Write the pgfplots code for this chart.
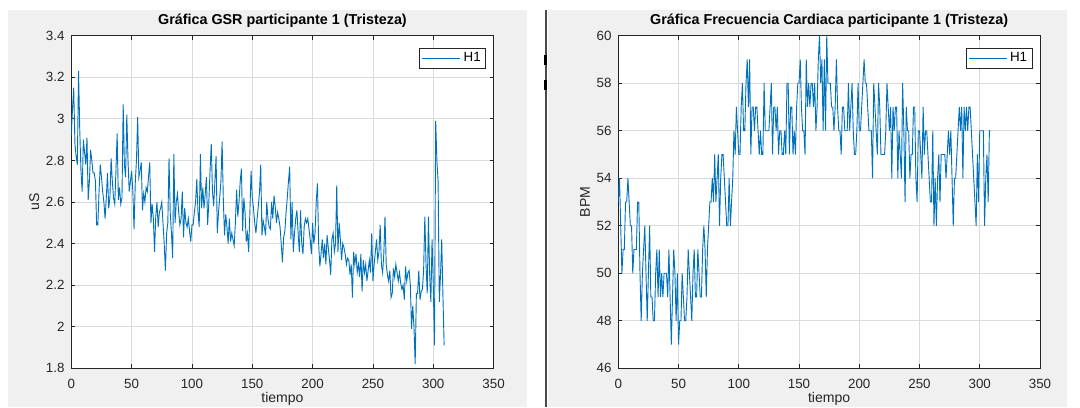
\documentclass[border=0pt]{standalone}
\usepackage{fontspec}
\setmainfont{Liberation Sans}
\usepackage{pgfplots}
\pgfplotsset{compat=1.18}
\definecolor{mline}{HTML}{0072BD}
\definecolor{axcol}{HTML}{262626}
\definecolor{gridc}{HTML}{DADADA}
\definecolor{figbg}{HTML}{F0F0F0}
\definecolor{sepcol}{HTML}{4A4A4A}
\newlength{\px}
\setlength{\px}{0.25mm}

\pgfplotsset{
  mat/.style={
    scale only axis, height=332.6\px,
    xmin=0, xmax=350, xtick={0,50,...,350},
    grid=major, major grid style={gridc, line width=0.5pt},
    axis line style={axcol, line width=0.6pt},
    tick style={axcol, line width=0.6pt},
    tick align=inside, tick pos=both, major tick length=4\px,
    axis background/.style={fill=white},
    every tick label/.append style={font=\fontsize{9.5}{10}\selectfont, text=axcol},
    /pgf/number format/assume math mode=true,
    xticklabel style={anchor=base, yshift=-20\px},
    yticklabel style={anchor=east, inner sep=0pt, xshift=-6.5\px},
    title style={font=\bfseries\fontsize{10.2}{12}\selectfont, text=black,
      at={(axis description cs:0.5,1.009)}, anchor=base},
    xlabel style={font=\fontsize{10}{11}\selectfont, text=axcol,
      at={(axis description cs:0.5,-0.1043)}, anchor=base},
    ylabel style={font=\fontsize{10}{11}\selectfont, text=axcol, anchor=center},
    legend style={draw=axcol, line width=0.5pt, fill=white,
      font=\fontsize{9.5}{10}\selectfont, inner xsep=1.5pt, inner ysep=1pt,
      anchor=north east},
    legend image code/.code={\draw[#1] (0mm,0mm) -- (9.5mm,0mm);},
  }
}

\begin{document}
\begin{tikzpicture}
\useasboundingbox (0,0) rectangle (1080\px,407\px);
\begin{scope}
\clip (0,0) rectangle (1080\px,407\px);
\fill[white] (0,0) rectangle (1080\px,407\px);
\fill[figbg] (7.6\px,0) rectangle (527\px,397\px);
\fill[figbg] (547.6\px,0) rectangle (1067\px,397\px);
\fill[sepcol] (544.5\px,0) rectangle (546.5\px,397\px);
\fill[black] (543.8\px,342\px) rectangle (546.8\px,352\px);
\fill[black] (543.8\px,317\px) rectangle (546.8\px,327\px);

% GSR
\begin{axis}[mat,
  at={(71.3\px,38.7\px)}, anchor=south west, width=422.3\px,
  ymin=1.8, ymax=3.4, ytick={1.8,2,2.2,2.4,2.6,2.8,3,3.2,3.4},
  title={Gráfica GSR participante 1 (Tristeza)},
  xlabel={tiempo}, ylabel={uS},
  ylabel style={at={(axis description cs:-0.0876,0.5)}},
  legend style={at={(axis description cs:0.982,0.963)}},
]
\addplot[mline, line width=0.65pt] coordinates {
(0,2.92) (1,3.05) (2,3.15) (3,2.88) (4,2.82) (5,2.78) (6,3.23) (7,2.95) (8,2.75) (9,2.65)
(10,2.90) (11,2.84) (12,2.78) (13,2.91) (14,2.61) (15,2.70) (16,2.85) (17,2.80) (18,2.74) (19,2.74)
(20,2.70) (21,2.49) (22,2.49) (23,2.65) (24,2.78) (25,2.72) (26,2.65) (27,2.60) (28,2.52) (29,2.62)
(30,2.74) (31,2.57) (32,2.62) (33,2.81) (34,2.70) (35,2.62) (36,2.59) (37,2.75) (38,2.93) (39,2.61)
(40,2.67) (41,2.59) (42,2.62) (43,3.07) (44,2.78) (45,2.72) (46,3.02) (47,2.80) (48,2.65) (49,2.70)
(50,2.75) (51,2.65) (52,2.47) (53,2.69) (54,2.80) (55,3.01) (56,2.72) (57,2.75) (58,2.79) (59,2.56)
(60,2.64) (61,2.60) (62,2.67) (63,2.65) (64,2.72) (65,2.79) (66,2.50) (67,2.59) (68,2.52) (69,2.36)
(70,2.53) (71,2.60) (72,2.48) (73,2.55) (74,2.57) (75,2.60) (76,2.50) (77,2.40) (78,2.27) (79,2.45)
(80,2.50) (81,2.81) (82,2.55) (83,2.45) (84,2.33) (85,2.83) (86,2.50) (87,2.60) (88,2.64) (89,2.55)
(90,2.49) (91,2.52) (92,2.65) (93,2.43) (94,2.57) (95,2.50) (96,2.48) (97,2.52) (98,2.46) (99,2.41)
(100,2.49) (101,2.49) (102,2.55) (103,2.60) (104,2.71) (105,2.55) (106,2.48) (107,2.83) (108,2.57) (109,2.67)
(110,2.57) (111,2.64) (112,2.72) (113,2.49) (114,2.60) (115,2.75) (116,2.88) (117,2.65) (118,2.58) (119,2.70)
(120,2.82) (121,2.45) (122,2.55) (123,2.62) (124,2.70) (125,2.89) (126,2.61) (127,2.44) (128,2.54) (129,2.48)
(130,2.40) (131,2.52) (132,2.41) (133,2.45) (134,2.42) (135,2.39) (136,2.50) (137,2.66) (138,2.53) (139,2.60)
(140,2.70) (141,2.76) (142,2.46) (143,2.62) (144,2.55) (145,2.41) (146,2.45) (147,2.36) (148,2.55) (149,2.75)
(150,2.62) (151,2.57) (152,2.50) (153,2.45) (154,2.52) (155,2.58) (156,2.65) (157,2.78) (158,2.44) (159,2.51)
(160,2.48) (161,2.44) (162,2.60) (163,2.52) (164,2.48) (165,2.47) (166,2.60) (167,2.52) (168,2.63) (169,2.58)
(170,2.50) (171,2.55) (172,2.52) (173,2.48) (174,2.40) (175,2.31) (176,2.43) (177,2.46) (178,2.55) (179,2.62)
(180,2.70) (181,2.77) (182,2.42) (183,2.60) (184,2.36) (185,2.45) (186,2.52) (187,2.56) (188,2.45) (189,2.36)
(190,2.56) (191,2.40) (192,2.35) (193,2.48) (194,2.52) (195,2.50) (196,2.52) (197,2.47) (198,2.42) (199,2.35)
(200,2.50) (201,2.40) (202,2.45) (203,2.60) (204,2.69) (205,2.40) (206,2.29) (207,2.35) (208,2.42) (209,2.33)
(210,2.40) (211,2.30) (212,2.44) (213,2.38) (214,2.32) (215,2.25) (216,2.42) (217,2.45) (218,2.36) (219,2.40)
(220,2.68) (221,2.36) (222,2.50) (223,2.42) (224,2.32) (225,2.40) (226,2.38) (227,2.35) (228,2.30) (229,2.33)
(230,2.32) (231,2.25) (232,2.30) (233,2.14) (234,2.36) (235,2.30) (236,2.35) (237,2.26) (238,2.30) (239,2.24)
(240,2.35) (241,2.17) (242,2.32) (243,2.26) (244,2.30) (245,2.22) (246,2.27) (247,2.32) (248,2.26) (249,2.45)
(250,2.22) (251,2.30) (252,2.36) (253,2.42) (254,2.32) (255,2.36) (256,2.49) (257,2.30) (258,2.26) (259,2.35)
(260,2.53) (261,2.30) (262,2.25) (263,2.22) (264,2.27) (265,2.14) (266,2.16) (267,2.28) (268,2.24) (269,2.30)
(270,2.26) (271,2.22) (272,2.26) (273,2.21) (274,2.18) (275,2.20) (276,2.13) (277,2.29) (278,2.22) (279,2.26)
(280,2.27) (281,2.20) (282,1.99) (283,2.10) (284,2.00) (285,1.82) (286,2.16) (287,2.16) (288,2.27) (289,2.13)
(290,2.17) (291,2.18) (292,2.27) (293,2.53) (294,2.30) (295,2.16) (296,2.53) (297,2.25) (298,2.12) (299,2.42)
(300,2.20) (301,1.91) (302,2.99) (303,2.80) (304,2.70) (305,2.12) (306,2.25) (307,2.42) (308,2.15) (309,1.91)
};
\addlegendentry{H1}
\end{axis}

% Frecuencia cardiaca
\begin{axis}[mat,
  at={(618.3\px,38.7\px)}, anchor=south west, width=421.7\px,
  ymin=46, ymax=60, ytick={46,48,...,60},
  title={Gráfica Frecuencia Cardiaca participante 1 (Tristeza)},
  xlabel={tiempo}, ylabel={BPM},
  ylabel style={at={(axis description cs:-0.079,0.5)}},
  legend style={at={(axis description cs:0.982,0.963)}},
]
\addplot[mline, line width=0.65pt] coordinates {
(0,53) (1,54) (2,52) (3,50) (4,51) (5,51) (6,53) (7,53) (8,54) (9,53)
(10,52) (11,52) (12,50) (13,51) (14,51) (15,51) (16,53) (17,53) (18,50) (19,48)
(20,50) (21,51) (22,52) (23,50) (24,48) (25,50) (26,52) (27,49) (28,49) (29,48)
(30,48) (31,50) (32,51) (33,49) (34,51) (35,49) (36,50) (37,49) (38,50) (39,50)
(40,50) (41,49) (42,51) (43,49) (44,47) (45,49) (46,51) (47,50) (48,48) (49,50)
(50,47) (51,48) (52,48) (53,50) (54,49) (55,48) (56,48) (57,49) (58,51) (59,50)
(60,49) (61,48) (62,50) (63,51) (64,49) (65,49) (66,51) (67,50) (68,49) (69,49)
(70,51) (71,52) (72,51) (73,49) (74,51) (75,52) (76,53) (77,53) (78,54) (79,53)
(80,55) (81,53) (82,54) (83,55) (84,52) (85,54) (86,55) (87,55) (88,54) (89,53)
(90,52) (91,52) (92,54) (93,52) (94,53) (95,54) (96,56) (97,55) (98,57) (99,56)
(100,55) (101,55) (102,57) (103,58) (104,56) (105,56) (106,58) (107,59) (108,57) (109,59)
(110,55) (111,57) (112,57) (113,56) (114,57) (115,57) (116,56) (117,55) (118,56) (119,55)
(120,55) (121,58) (122,56) (123,56) (124,56) (125,56) (126,57) (127,58) (128,55) (129,57)
(130,57) (131,56) (132,57) (133,55) (134,56) (135,56) (136,55) (137,55) (138,56) (139,55)
(140,58) (141,58) (142,55) (143,57) (144,57) (145,55) (146,56) (147,55) (148,57) (149,58)
(150,58) (151,59) (152,57) (153,56) (154,56) (155,55) (156,59) (157,57) (158,58) (159,57)
(160,58) (161,58) (162,57) (163,58) (164,56) (165,57) (166,59) (167,60) (168,58) (169,59)
(170,56) (171,59) (172,56) (173,60) (174,58) (175,58) (176,58) (177,57) (178,57) (179,56)
(180,57) (181,59) (182,57) (183,56) (184,56) (185,55) (186,57) (187,57) (188,56) (189,56)
(190,56) (191,58) (192,56) (193,57) (194,58) (195,56) (196,55) (197,55) (198,56) (199,58)
(200,56) (201,56) (202,57) (203,58) (204,59) (205,58) (206,58) (207,57) (208,56) (209,56)
(210,56) (211,54) (212,58) (213,57) (214,56) (215,55) (216,58) (217,57) (218,55) (219,55)
(220,55) (221,55) (222,56) (223,58) (224,57) (225,56) (226,57) (227,54) (228,57) (229,56)
(230,57) (231,57) (232,54) (233,56) (234,55) (235,54) (236,58) (237,56) (238,53) (239,57)
(240,56) (241,56) (242,54) (243,55) (244,55) (245,57) (246,57) (247,54) (248,53) (249,56)
(250,56) (251,55) (252,54) (253,57) (254,55) (255,56) (256,56) (257,55) (258,54) (259,53)
(260,53) (261,56) (262,52) (263,54) (264,52) (265,54) (266,55) (267,53) (268,55) (269,55)
(270,55) (271,55) (272,54) (273,55) (274,56) (275,55) (276,56) (277,54) (278,52) (279,54)
(280,54) (281,55) (282,56) (283,57) (284,56) (285,57) (286,54) (287,57) (288,56) (289,57)
(290,56) (291,57) (292,57) (293,56) (294,55) (295,54) (296,53) (297,52) (298,55) (299,53)
(300,56) (301,56) (302,56) (303,56) (304,52) (305,54) (306,55) (307,53) (308,56) (309,56)
};
\addlegendentry{H1}
\end{axis}
\end{scope}
\end{tikzpicture}
\end{document}
